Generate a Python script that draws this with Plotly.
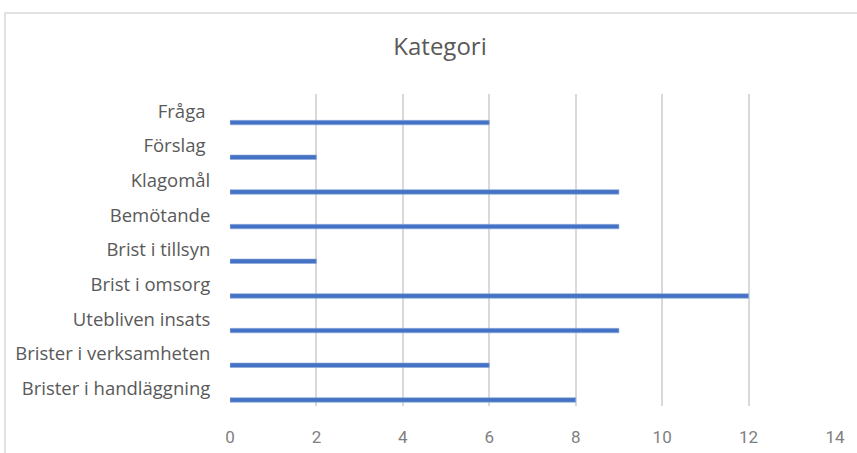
import plotly.graph_objects as go

categories = ["Fråga\u00a0", "Förslag\u00a0", "Klagomål", "Bemötande", "Brist i tillsyn",
              "Brist i omsorg", "Utebliven insats", "Brister i verksamheten",
              "Brister i handläggning"]
values = [6, 2, 9, 9, 2, 12, 9, 6, 8]
x_ticks = [0, 2, 4, 6, 8, 10, 12, 14]

fig = go.Figure()
fig.add_trace(go.Bar(
    y=categories, x=values, orientation="h",
    width=0.13, offset=0.26,
    marker=dict(color="#4472C4", line=dict(color="#8FAADC", width=0.6)),
))

fig.update_layout(
    width=857, height=453,
    paper_bgcolor="white", plot_bgcolor="white",
    margin=dict(l=230, r=22, t=94, b=47, autoexpand=False),
    showlegend=False,
    title=dict(text="Kategori", x=440 / 857, xanchor="center", xref="container",
               y=1 - 47 / 453, yanchor="middle", yref="container",
               font=dict(family="Open Sans", size=24, color="#595959")),
    font=dict(family="Open Sans", color="#595959"),
)
fig.update_xaxes(
    range=[0, 14], tickvals=x_ticks, showgrid=True, gridcolor="#D9D9D9", gridwidth=1.6,
    zeroline=False, showline=False, automargin=False,
    ticks="outside", ticklen=16, tickcolor="rgba(0,0,0,0)",
    tickfont=dict(family="Roboto", size=17, color="#7F7F7F"),
)
fig.update_yaxes(
    autorange="reversed", showgrid=False, zeroline=False, showline=False, automargin=False,
    ticks="outside", ticklen=15, tickcolor="rgba(0,0,0,0)",
    tickfont=dict(family="Open Sans", size=18.5, color="#595959"),
)
fig.add_shape(type="rect", xref="paper", yref="paper",
              x0=(5 - 230) / 605, x1=1.2, y0=-0.5, y1=(406 - 13) / 312,
              line=dict(color="#D9D9D9", width=1.5), layer="below")

fig.write_html("out.html", config={"displayModeBar": False},
               post_script="document.body.style.margin='0';document.body.style.overflow='hidden';")
